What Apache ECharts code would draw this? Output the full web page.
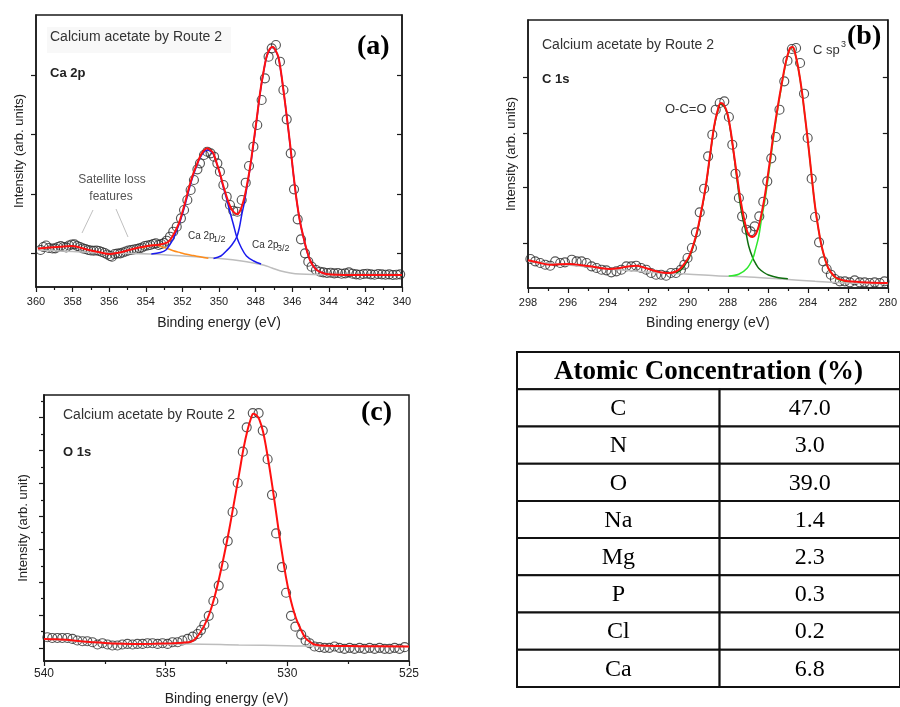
<!DOCTYPE html>
<html><head><meta charset="utf-8">
<script src="https://cdn.jsdelivr.net/npm/echarts@6/dist/echarts.min.js"></script>
<style>html,body{margin:0;padding:0;background:#fff}#c{width:900px;height:707px}</style>
</head><body><div id="c"></div>
<script>
// ---------- Panel (a): Ca 2p ----------
const caExp = [[359.75,37],[359.6,40],[359.45,41.5],[359.3,39],[359.1,38.5],[358.95,38.7],[358.8,40],[358.65,41],[358.5,40],[358.35,39.7],[358.2,41.5],[358.05,42.5],[357.9,42.7],[357.75,41],[357.6,40],[357.45,38.7],[357.3,38],[357.15,37],[357.0,36.5],[356.85,36.3],[356.7,36.5],[356.55,36],[356.4,35],[356.25,34],[356.1,32.5],[355.95,31],[355.85,30.3],[355.7,33],[355.55,33.5],[355.4,33.7],[355.25,34.5],[355.1,35.5],[354.95,36.5],[354.8,37],[354.65,37.5],[354.5,38],[354.35,38.7],[354.2,39.5],[354.05,41],[353.9,41.5],[353.75,42],[353.6,43],[353.45,43.7],[353.3,42],[353.15,43],[353.0,44],[352.86,46.3],[352.68,50.3],[352.5,55.3],[352.31,60.3],[352.08,68.7],[351.91,77],[351.73,87],[351.55,97],[351.37,107],[351.18,117.7],[351.04,123.7],[350.82,132],[350.64,135.3],[350.46,133.7],[350.27,130.3],[350.09,123.7],[349.95,115.3],[349.76,102],[349.58,90.3],[349.4,82],[349.22,76.3],[349.0,75.3],[348.76,87],[348.54,104.3],[348.36,121],[348.12,140.3],[347.91,162],[347.67,187],[347.49,208.7],[347.29,230.3],[347.12,238.7],[346.89,242],[346.67,225.3],[346.48,197],[346.3,167.7],[346.08,133.7],[345.9,97.7],[345.7,67.7],[345.52,47.7],[345.3,33.7],[345.12,25.3],[344.94,20.3],[344.7,17],[344.48,15.3],[344.3,14.7],[344.1,14],[343.9,14.3],[343.7,13.7],[343.5,14],[343.3,13.3],[343.1,13.7],[342.9,14.7],[342.7,13.3],[342.5,12.7],[342.3,12.3],[342.1,13],[341.9,13.3],[341.7,12.7],[341.5,12.3],[341.3,13],[341.1,12.7],[340.9,12.3],[340.7,12.7],[340.5,12],[340.3,12.3],[340.1,12.7]];
const caFit = [[359.9,38.5],[359.3,39.5],[358.69,40.3],[358.05,41],[357.6,39.5],[357.23,37.5],[356.6,35],[355.96,33],[355.5,34.3],[355.05,36.3],[354.6,38.5],[354.13,40.3],[353.7,41.5],[353.41,42],[353.1,43],[352.77,45.3],[352.5,52],[352.3,59],[352.13,67],[351.95,78],[351.77,90.3],[351.6,102],[351.4,113.7],[351.2,123],[351.04,130.3],[350.85,136],[350.64,138.7],[350.48,137],[350.31,133.7],[350.13,124],[349.95,113.7],[349.77,101.5],[349.58,90.3],[349.4,81],[349.22,75.3],[349.0,72.7],[348.88,75],[348.76,80.3],[348.62,89],[348.49,100.3],[348.3,120],[348.12,143.7],[347.94,168],[347.76,193.7],[347.58,214],[347.4,230.3],[347.23,238],[347.07,240.3],[346.92,237],[346.76,230.3],[346.62,216],[346.48,197],[346.3,171],[346.12,143.7],[345.94,114],[345.76,87],[345.58,66],[345.39,50.3],[345.2,36.5],[345.03,27],[344.85,21],[344.66,17],[344.4,14.5],[344.12,13],[343.5,12.3],[342,12],[340,12]];
const caBackground = [[359.9,37],[358,35.5],[356.5,34.3],[353.77,33],[351.95,31],[350.13,28.7],[348.49,25.3],[347.58,22],[347.1,19],[346.67,16.3],[346.1,14],[345.57,13],[344,12.3],[340,12]];
const ca2p12 = [[353.7,33],[353.2,34.5],[352.9,37],[352.7,42],[352.5,48],[352.3,57],[352.1,67],[351.95,76],[351.77,88],[351.6,100],[351.4,112],[351.2,122],[351.04,129],[350.85,134.5],[350.64,137],[350.48,136],[350.31,133],[350.13,124],[349.95,113],[349.77,100],[349.58,88],[349.4,75],[349.22,63],[349.03,50],[348.8,40],[348.5,31],[348.1,26],[347.7,23]];
const ca2p32 = [[350.3,28.5],[349.9,31],[349.6,36],[349.3,42],[349.03,50],[348.88,60],[348.76,72],[348.62,84],[348.49,98],[348.3,119],[348.12,142],[347.94,167],[347.76,193],[347.58,213.5],[347.4,230],[347.23,237.5],[347.07,240],[346.92,236.5],[346.76,230],[346.62,215.5],[346.48,197],[346.3,171],[346.12,143],[345.94,113.5],[345.76,87],[345.58,66],[345.39,50],[345.2,36],[345.03,27],[344.85,21],[344.66,17],[344.4,14.5],[344.1,13]];
const caSatellite = [[354.2,39],[353.8,41.5],[353.5,42],[353.13,40.3],[352.8,38.3],[352.5,36.3],[352.1,34.3],[351.77,32.7],[351.4,31.4],[351.04,30.3],[350.58,28.7]];
const caTicks = [33.5, 93, 152.5, 212];

// ---------- Panel (b): C 1s ----------
const cExp = [[297.88,29],[297.64,26.7],[297.39,25],[297.14,23.3],[296.89,22.3],[296.64,26.7],[296.39,25],[296.15,25.7],[295.81,28.3],[295.57,26.7],[295.32,26.7],[295.07,25],[294.82,21.7],[294.57,20],[294.32,18.3],[294.08,17.7],[293.83,15.7],[293.58,16.7],[293.33,18.3],[293.08,21.7],[292.83,21.7],[292.59,22.3],[292.34,20],[292.09,18.3],[291.84,15],[291.59,13.3],[291.34,13.3],[291.09,12.3],[290.85,15],[290.6,15],[290.35,18.3],[290.18,23.3],[290.02,30],[289.8,40],[289.6,55.7],[289.41,75.7],[289.19,99.3],[288.99,131.7],[288.78,153.3],[288.61,178.3],[288.41,185],[288.18,186.7],[287.95,171],[287.78,143.3],[287.62,114.3],[287.45,90],[287.29,71.7],[287.07,58.3],[286.87,56.7],[286.66,61.7],[286.43,71.7],[286.23,86.3],[286.03,106.7],[285.83,129.7],[285.6,151],[285.42,178.3],[285.18,206.7],[285.02,227.3],[284.8,239],[284.59,240],[284.39,225],[284.19,194.3],[284.01,150],[283.81,109.3],[283.64,71],[283.44,45.7],[283.23,26.7],[283.06,19],[282.85,13.3],[282.65,9],[282.4,6.7],[282.15,6.7],[281.9,5.7],[281.66,7.7],[281.41,5.7],[281.16,5.7],[280.91,5],[280.66,5.7],[280.41,5],[280.17,6.7]];
const cFit = [[298,27.7],[297.5,25.5],[296.89,23.3],[296.4,23.8],[295.9,24],[295.4,23],[294.9,21.7],[294.4,20],[293.91,19],[293.4,20],[292.9,21.8],[292.59,22.3],[292.2,20.5],[291.59,16.7],[291.2,15.2],[290.93,15],[290.6,16.5],[290.35,20],[290.15,25],[289.94,31.7],[289.73,43],[289.52,58.3],[289.32,78],[289.11,101.7],[288.9,132],[288.69,161.7],[288.52,177],[288.36,185],[288.2,183],[288.03,175],[287.86,157],[287.7,134],[287.53,110],[287.37,88.3],[287.2,70],[287.04,56.7],[286.9,52],[286.76,51],[286.6,54],[286.46,61.7],[286.3,76],[286.13,95],[285.92,124],[285.71,155],[285.5,182],[285.3,205],[285.1,226],[284.89,240],[284.76,241],[284.64,235],[284.48,220],[284.31,198.3],[284.14,171],[283.97,141.7],[283.8,110],[283.64,81.7],[283.47,59],[283.31,41.7],[283.14,29],[282.98,20],[282.78,14],[282.57,10],[282.3,8],[281.99,6.7],[281,5.5],[280,5]];
const cBackground = [[298,26.7],[296,23],[294.41,20],[291.92,15.7],[290.27,14.3],[288.61,12.3],[286.96,11],[285.3,9],[283.64,6.7],[281.99,5],[280,4.3]];
const cOCO = [[290.6,15],[290.35,18],[290.15,23],[289.94,30],[289.73,41.5],[289.52,57],[289.32,77],[289.11,100.5],[288.9,131],[288.69,160.5],[288.52,176],[288.36,184],[288.2,182],[288.03,174],[287.86,156],[287.7,133],[287.53,106],[287.37,82],[287.2,64],[287.13,59],[286.96,42],[286.75,29.7],[286.6,24],[286.46,19.7],[286.2,15.5],[285.97,13],[285.47,10.3],[285.0,9.2]];
const cSp3 = [[287.96,12],[287.46,13.7],[287.04,19.7],[286.75,29.7],[286.63,38],[286.46,51.3],[286.3,71.3],[286.13,90],[285.92,120],[285.71,152],[285.5,180],[285.3,204],[285.1,225],[284.89,239.5],[284.76,240.5],[284.64,234.5],[284.48,219.5],[284.31,198],[284.14,170.5],[283.97,141.5],[283.8,109.5],[283.64,81.5],[283.47,58.5],[283.31,41.5],[283.14,28.5],[282.98,19.5],[282.78,13.5],[282.57,9.5],[282.3,7.5],[282.0,6.5]];
const cTicks = [45, 101, 155, 211];

// ---------- Panel (c): O 1s ----------
const oExp = [[539.86,24],[539.66,23.3],[539.45,23.3],[539.25,23.3],[539.04,23.3],[538.83,22.3],[538.63,20.7],[538.42,20],[538.22,20],[538.01,19],[537.8,16.7],[537.6,18],[537.39,16.7],[537.19,15.7],[536.98,15.7],[536.78,16.7],[536.57,17.3],[536.36,16.7],[536.16,17.3],[535.95,17.3],[535.75,18],[535.54,18],[535.33,17.3],[535.13,18],[534.92,17.3],[534.72,19],[534.51,19],[534.31,20.7],[534.1,22.3],[533.89,24.7],[533.69,27.3],[533.55,31.3],[533.41,36.7],[533.23,45.7],[533.04,60.7],[532.82,76.3],[532.62,96.3],[532.45,121.3],[532.25,150.7],[532.04,180],[531.83,211.7],[531.67,236.3],[531.42,250.7],[531.18,250.7],[531.01,233],[530.81,204],[530.63,168],[530.46,129],[530.22,95],[530.05,69],[529.85,45.7],[529.67,34.7],[529.43,26.7],[529.25,20.7],[529.09,18],[528.88,14.7],[528.68,14],[528.47,13.3],[528.27,13.3],[528.06,14.7],[527.86,13.3],[527.65,12.3],[527.44,13.3],[527.24,12.3],[527.03,13.3],[526.83,12.3],[526.62,13.3],[526.41,12.3],[526.21,13.3],[526.0,12.3],[525.8,12.3],[525.59,13.3],[525.39,12.3],[525.18,14]];
const oFit = [[540,22.3],[539.5,22],[538.97,21.3],[538.5,20],[538.01,19],[537.2,17.8],[536.36,17.3],[535.5,17.5],[534.72,18],[534.3,18.5],[533.96,19.5],[533.8,22],[533.62,27.3],[533.42,35.5],[533.21,47.3],[533.0,64],[532.8,84],[532.59,108],[532.38,134],[532.17,163],[531.97,190.7],[531.8,215],[531.63,234],[531.5,245],[531.4,250],[531.27,248.5],[531.15,244],[531.0,232],[530.87,215.7],[530.73,195],[530.6,174],[530.46,150],[530.33,127.3],[530.19,105],[530.05,84],[529.92,68],[529.78,54],[529.64,43],[529.5,34.7],[529.37,28],[529.23,22.3],[529.05,19],[528.88,16.7],[528.4,15.3],[527,15],[525,14.7]];
const oBackground = [[540,22.3],[538,19],[536,17.3],[534,17.3],[532,16.3],[530,15.5],[528,14.7],[525,14.7]];
const oMajorTicks = [13, 46.3, 79.7, 113, 146.3, 179.7, 213, 246.3];
const oMinorTicks = [29.7, 63, 96.3, 129.7, 163, 196.3, 229.7, 263];

// ---------- Table ----------
const tableHeader = 'Atomic Concentration (%)';
const elements = ['C', 'N', 'O', 'Na', 'Mg', 'P', 'Cl', 'Ca'];
const atomicPercent = [47.0, 3.0, 39.0, 1.4, 2.3, 0.3, 0.2, 6.8];

// ---------- styling ----------
const SANS = "'Liberation Sans', Arial, Helvetica, sans-serif";
const SERIF = "'Liberation Serif', 'Times New Roman', serif";
const FRAME = '#1a1a1a';
const RED = '#ff1010';
const GRAY = '#bdbdbd';

function xAx(g, min, max, interval, fs, margin, nameGap) {
  return {
    gridIndex: g, type: 'value', inverse: true, min, max, interval,
    name: 'Binding energy (eV)', nameLocation: 'middle', nameGap,
    nameTextStyle: { fontFamily: SANS, fontSize: 14, color: '#222' },
    axisLine: { show: true, onZero: false, lineStyle: { color: FRAME, width: 1.5 } },
    axisTick: { show: true, inside: false, length: 5, lineStyle: { color: FRAME, width: 1.2 } },
    minorTick: { show: true, splitNumber: 2, length: 3, lineStyle: { color: FRAME, width: 1.2 } },
    axisLabel: { fontFamily: SANS, fontSize: fs, color: '#222', margin },
    splitLine: { show: false }, minorSplitLine: { show: false }
  };
}
function yAx(g, max, pos, ticks, inside, len, name, nameGap) {
  const a = {
    gridIndex: g, type: 'value', min: 0, max, position: pos,
    axisLine: { show: true, onZero: false, lineStyle: { color: FRAME, width: 1.5 } },
    axisTick: { show: true, inside, length: len, customValues: ticks, lineStyle: { color: FRAME, width: 1.2 } },
    axisLabel: { show: false }, splitLine: { show: false }
  };
  if (name) {
    a.name = name; a.nameLocation = 'middle'; a.nameGap = nameGap;
    a.nameTextStyle = { fontFamily: SANS, fontSize: 13, color: '#222' };
  }
  return a;
}
function scat(xi, yi, data) {
  return { type: 'scatter', xAxisIndex: xi, yAxisIndex: yi, data, symbol: 'circle', symbolSize: 9,
    itemStyle: { color: 'rgba(0,0,0,0)', borderColor: '#2a2a2a', borderWidth: 1.15 }, z: 2, silent: true };
}
function ln(xi, yi, data, color, width, z) {
  return { type: 'line', xAxisIndex: xi, yAxisIndex: yi, data, showSymbol: false, symbol: 'none',
    smooth: 0.35, lineStyle: { color, width }, z, silent: true };
}
function txt(x, y, text, font, fill, align) {
  return { type: 'text', x, y, z: 50, style: { text, font, fill: fill || '#333', align: align || 'left', verticalAlign: 'middle' } };
}

const TABLE_SPLIT = 0.529;
function renderTable(params, api) {
  const i = params.dataIndex;
  const tl = api.coord([0, i]);
  const br = api.coord([1, i + 1]);
  const mid = api.coord([TABLE_SPLIT, i])[0];
  const y0 = tl[1], h = br[1] - tl[1], cy = y0 + h / 2 + 1;
  const cellStyle = { stroke: '#111', lineWidth: 2, fill: '#fff' };
  if (i === 0) {
    return { type: 'group', children: [
      { type: 'rect', shape: { x: tl[0], y: y0, width: br[0] - tl[0], height: h }, style: cellStyle },
      { type: 'text', style: { text: tableHeader, x: (tl[0] + br[0]) / 2, y: cy, align: 'center', verticalAlign: 'middle', font: `bold 27px ${SERIF}`, fill: '#000' } }
    ] };
  }
  return { type: 'group', children: [
    { type: 'rect', shape: { x: tl[0], y: y0, width: mid - tl[0], height: h }, style: cellStyle },
    { type: 'rect', shape: { x: mid, y: y0, width: br[0] - mid, height: h }, style: cellStyle },
    { type: 'text', style: { text: elements[i - 1], x: (tl[0] + mid) / 2, y: cy, align: 'center', verticalAlign: 'middle', font: `24px ${SERIF}`, fill: '#000' } },
    { type: 'text', style: { text: atomicPercent[i - 1].toFixed(1), x: (mid + br[0]) / 2, y: cy, align: 'center', verticalAlign: 'middle', font: `24px ${SERIF}`, fill: '#000' } }
  ] };
}

const chart = echarts.init(document.getElementById('c'), null, { renderer: 'canvas' });
const option = {
  animation: false,
  backgroundColor: '#fff',
  grid: [
    { left: 36, top: 15, width: 366, height: 272, show: true, borderColor: FRAME, borderWidth: 1.5 },
    { left: 528, top: 20, width: 362, height: 268, show: true, borderColor: FRAME, borderWidth: 1.5 },
    { left: 44, top: 395, width: 365, height: 269, show: true, borderColor: FRAME, borderWidth: 1.5 },
    { left: 517, top: 352, width: 395, height: 335 }
  ],
  xAxis: [
    xAx(0, 340, 360, 2, 11, 9, 29),
    xAx(1, 280, 298, 2, 11, 9, 28),
    xAx(2, 525, 540, 5, 12, 7, 31),
    { gridIndex: 3, type: 'value', min: 0, max: 1, show: false }
  ],
  yAxis: [
    yAx(0, 272, 'left', caTicks, false, 5, 'Intensity (arb. units)', 10),
    yAx(0, 272, 'right', caTicks, true, 5),
    yAx(1, 268, 'left', cTicks, false, 5, 'Intensity (arb. units)', 10),
    yAx(1, 268, 'right', cTicks, true, 5),
    yAx(2, 269, 'left', oMajorTicks, false, 5, 'Intensity (arb. unit)', 14),
    yAx(2, 269, 'left', oMinorTicks, false, 3),
    { gridIndex: 3, type: 'value', min: 0, max: 9, inverse: true, show: false }
  ],
  series: [
    scat(0, 0, caExp),
    ln(0, 0, caBackground, GRAY, 1.5, 3),
    ln(0, 0, caSatellite, '#ff8c1a', 1.5, 4),
    ln(0, 0, ca2p12, '#1a1aee', 1.5, 4),
    ln(0, 0, ca2p32, '#1a1aee', 1.5, 4),
    ln(0, 0, caFit, RED, 2, 5),

    scat(1, 2, cExp),
    ln(1, 2, cBackground, GRAY, 1.5, 3),
    ln(1, 2, cOCO, '#0f6e0f', 1.5, 4),
    ln(1, 2, cSp3, '#2ee82e', 1.5, 4),
    ln(1, 2, cFit, RED, 2, 5),

    scat(2, 4, oExp),
    ln(2, 4, oBackground, GRAY, 1.5, 3),
    ln(2, 4, oFit, RED, 2, 5),

    { type: 'custom', xAxisIndex: 3, yAxisIndex: 6, silent: true,
      data: [tableHeader].concat(elements).map((_, i) => [0.5, i]),
      encode: { x: 0, y: 1 }, renderItem: renderTable }
  ],
  graphic: [
    { type: 'rect', shape: { x: 47, y: 27, width: 184, height: 26 }, style: { fill: '#f8f8f8' }, z: 1 },
    txt(50, 37, 'Calcium acetate by Route 2', `14px ${SANS}`, '#333'),
    txt(50, 73, 'Ca 2p', `bold 13px ${SANS}`, '#222'),
    txt(357, 47, '(a)', `bold 28px ${SERIF}`, '#000'),
    txt(112, 180, 'Satellite loss', `12px ${SANS}`, '#555', 'center'),
    txt(111, 197, 'features', `12px ${SANS}`, '#555', 'center'),
    { type: 'line', shape: { x1: 93, y1: 210, x2: 82, y2: 233 }, style: { stroke: '#c0c0c0', lineWidth: 1 }, z: 50 },
    { type: 'line', shape: { x1: 116, y1: 209, x2: 128, y2: 237 }, style: { stroke: '#c0c0c0', lineWidth: 1 }, z: 50 },
    txt(188, 236, 'Ca 2p', `10px ${SANS}`, '#333'),
    txt(213, 240, '1/2', `9px ${SANS}`, '#333'),
    txt(252, 245, 'Ca 2p', `10px ${SANS}`, '#333'),
    txt(277, 249, '3/2', `9px ${SANS}`, '#333'),

    txt(542, 45, 'Calcium acetate by Route 2', `14px ${SANS}`, '#333'),
    txt(542, 79, 'C 1s', `bold 13px ${SANS}`, '#222'),
    txt(665, 109, 'O-C=O', `13px ${SANS}`, '#333'),
    txt(813, 50, 'C sp', `13px ${SANS}`, '#333'),
    txt(841, 45, '3', `9px ${SANS}`, '#333'),
    txt(847, 37, '(b)', `bold 28px ${SERIF}`, '#000'),

    txt(63, 415, 'Calcium acetate by Route 2', `14px ${SANS}`, '#333'),
    txt(63, 452, 'O 1s', `bold 13px ${SANS}`, '#222'),
    txt(361, 413, '(c)', `bold 28px ${SERIF}`, '#000')
  ]
};
chart.setOption(option);
</script></body></html>
